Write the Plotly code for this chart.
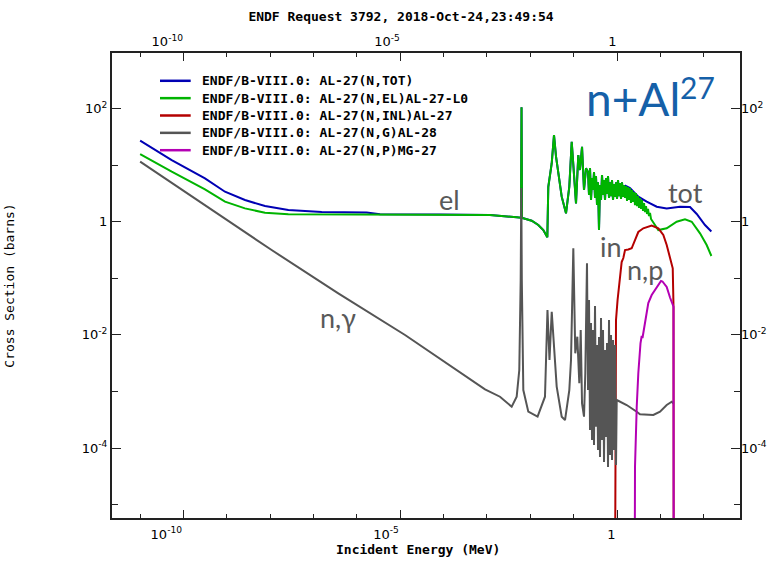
import plotly.graph_objects as go

# ---------------- data ----------------
# Elastic  AL-27(N,EL)
el_E = [1e-11, 5.35e-11, 3.13e-10, 9.06e-10, 2.62e-9, 7.59e-9, 2.62e-8, 1.68e-6, 8.26e-5, 1.175e-3,
        4.85e-3, 6.10e-3, 6.27e-3, 6.44e-3, 6.90e-3, 1.077e-2, 1.53e-2, 1.995e-2, 2.47e-2, 2.60e-2,
        3.12e-2, 3.52e-2, 3.92e-2, 4.43e-2, 5.30e-2, 6.66e-2, 7.94e-2, 9.02e-2, 9.82e-2, 0.1133,
        0.128, 0.140, 0.156, 0.1733, 0.1927,
        0.2143, 0.2260, 0.2383, 0.2513, 0.2650, 0.2795, 0.2947, 0.3108, 0.3277, 0.3456,
        0.3645, 0.3843, 0.4053, 0.4274, 0.4507, 0.4754, 0.5013, 0.5287, 0.5575, 0.5879,
        0.6200, 0.6538, 0.6895, 0.7271, 0.7668, 0.8086, 0.8527, 0.8992, 0.9483, 1.0,
        1.0545, 1.112, 1.173, 1.237, 1.304, 1.375, 1.450, 1.529, 1.613, 1.701,
        1.793, 1.891, 1.994, 2.103, 2.218, 2.339, 2.466, 2.601, 2.743, 2.892,
        3.050, 3.216, 3.392, 3.577, 3.772, 3.978, 4.195, 4.424, 4.665, 4.920,
        5.188, 5.471, 5.770, 6.085, 6.767, 7.526, 8.97, 14.0, 23.8, 37.0,
        52.9, 82.2, 117, 150]
el_S = [15.7, 7.64, 3.74, 2.26, 1.72, 1.44, 1.35, 1.35, 1.34, 1.31,
        1.20, 1.18, 105, 1.16, 1.15, 1.04, 0.874, 0.713, 0.530, 4.15,
        10.8, 34.0, 14.1, 6.68, 2.77, 1.41, 4.15, 25.9, 9.37, 2.11,
        15.1, 8.19, 21.1, 3.63, 8.78,
        7.55, 2.96, 8.89, 2.42, 5.92, 3.63, 7.55, 2.62, 6.42, 1.97,
        4.97, 0.713, 4.45, 2.42, 6.68, 2.96, 5.45, 2.42, 5.92, 3.09,
        6.42, 2.62, 4.97, 2.84, 5.45, 2.42, 4.64, 2.73, 4.97, 2.52,
        5.45, 2.84, 4.83, 2.52, 4.97, 2.73, 4.45, 2.62, 4.27, 2.32,
        4.10, 2.42, 3.94, 2.14, 3.63, 2.23, 3.35, 1.97, 3.21, 1.89,
        2.84, 1.75, 2.62, 1.68, 2.42, 1.55, 2.14, 1.48, 1.89, 1.37,
        1.68, 1.26, 1.43, 1.12, 0.995, 0.839, 0.713, 0.765, 1.00, 1.10,
        1.00, 0.624, 0.388, 0.248]

# Total  AL-27(N,TOT): visible low- and high-energy parts; in the resonance
# region it lies on the elastic curve.
tot_low_E = [1e-11, 5.35e-11, 3.13e-10, 9.06e-10, 2.62e-9, 7.59e-9, 2.62e-8, 1.54e-7, 1.68e-6, 3.41e-6]
tot_low_S = [27.0, 12.3, 5.85, 3.39, 2.42, 1.89, 1.61, 1.48, 1.45, 1.35]
tot_high_E = [1.613, 1.994, 2.466, 2.85, 3.10, 4.84, 8.24, 14.0, 28.4, 48.3, 69.0, 107, 150]
tot_high_S = [4.27, 3.94, 3.35, 2.96, 2.77, 2.26, 1.84, 1.72, 1.84, 1.82, 1.37, 0.875, 0.671]

# Inelastic  AL-27(N,INL)
inl_E = [0.876, 0.90, 0.948, 1.03, 1.17, 1.28, 1.40, 1.53, 1.82, 2.18,
         2.60, 3.10, 4.04, 6.31, 8.97, 11.7, 14.0, 16.7, 19.3, 20.1, 20.4]
inl_S = [1e-9, 9.2e-5, 1.83e-2, 4.14e-2, 9.33e-2, 0.194, 0.228, 0.316, 0.323, 0.339,
         0.475, 0.658, 0.765, 0.857, 0.765, 0.582, 0.388, 0.241, 0.150, 3.15e-2, 1e-9]

# Capture  AL-27(N,G)
ng_E = [1e-11, 3.13e-10, 1.08e-8, 3.72e-7, 1.29e-5, 9.02e-4, 2.00e-3, 3.72e-3, 4.85e-3, 5.57e-3,
        6.00e-3, 6.20e-3, 6.37e-3, 6.90e-3, 8.99e-3, 1.47e-2, 2.18e-2, 2.49e-2, 2.77e-2, 3.12e-2,
        3.52e-2, 4.06e-2, 5.30e-2, 6.32e-2, 7.94e-2, 8.69e-2, 9.82e-2, 0.109, 0.1214, 0.135,
        0.1454, 0.156, 0.1733, 0.1856, 0.203,
        0.2143, 0.2260, 0.2383, 0.2513, 0.2650, 0.2795, 0.2947, 0.3108, 0.3277, 0.3456,
        0.3645, 0.3843, 0.4053, 0.4274, 0.4507, 0.4754, 0.5013, 0.5287, 0.5575, 0.5879,
        0.6200, 0.6538, 0.6895, 0.7271, 0.7668, 0.8086, 0.8527, 0.8992, 0.9483, 0.984,
        1.67, 2.85, 3.39, 6.88, 9.82, 14.0, 18.3, 20.1]
ng_S = [11.5, 1.97, 0.316, 5.43e-2, 9.96e-3, 1.09e-3, 8.09e-4, 5.38e-4, 8.09e-4, 2.40e-3,
        9.33e-2, 3.94, 9.33e-2, 1.06e-3, 4.40e-4, 3.61e-4, 8.09e-4, 2.75e-2, 3.60e-3, 2.57e-2,
        6.19e-3, 1.22e-3, 3.59e-4, 3.13e-4, 1.06e-3, 3.60e-3, 0.339, 4.73e-3, 9.29e-3, 1.40e-3,
        1.22e-2, 6.18e-4, 3.59e-4, 2.10e-3, 0.184,
        1.06e-3, 4.14e-2, 2.09e-4, 1.62e-2, 1.39e-4, 1.22e-2, 1.13e-4, 3.24e-2, 2.39e-4, 6.63e-3,
        9.25e-5, 9.18e-3, 6.97e-5, 1.99e-2, 1.39e-4, 1.22e-2, 5.68e-5, 5.41e-3, 1.57e-4, 7.19e-3,
        4.64e-5, 1.83e-2, 7.55e-5, 9.96e-3, 6.16e-5, 8.13e-3, 9.25e-5, 6.63e-3, 5.03e-5, 7.08e-4,
        5.77e-4, 4.40e-4, 3.95e-4, 3.85e-4, 4.40e-4, 5.77e-4, 6.61e-4, 6.14e-4]

# (n,p)  AL-27(N,P)
np_E = [2.51, 2.60, 2.85, 3.10, 3.48, 3.71, 3.87, 4.43, 5.27, 6.31,
        8.07, 10.35, 11.2, 14.0, 16.7, 20.1, 20.4]
np_S = [1e-9, 4.69e-5, 5.38e-4, 2.10e-3, 7.10e-3, 9.57e-3, 8.82e-3, 1.60e-2, 3.66e-2, 5.07e-2,
        6.74e-2, 8.96e-2, 8.78e-2, 7.02e-2, 4.58e-2, 3.15e-2, 1e-9]

# total in the resonance region coincides with the elastic curve
mid = [(e, s) for e, s in zip(el_E, el_S) if tot_low_E[-1] < e < tot_high_E[0]]
tot_E = tot_low_E + [e for e, _ in mid] + tot_high_E
tot_S = tot_low_S + [s for _, s in mid] + tot_high_S

names = ["ENDF/B-VIII.0: AL-27(N,TOT)",
         "ENDF/B-VIII.0: AL-27(N,EL)AL-27-L0",
         "ENDF/B-VIII.0: AL-27(N,INL)AL-27",
         "ENDF/B-VIII.0: AL-27(N,G)AL-28",
         "ENDF/B-VIII.0: AL-27(N,P)MG-27"]
colors = ["#0000b4", "#00b400", "#b40000", "#555555", "#b400b4"]
xs = [tot_E, el_E, inl_E, ng_E, np_E]
ys = [tot_S, el_S, inl_S, ng_S, np_S]

x_tickvals = [1e-10, 1e-5, 1]
x_ticktext = ["10<sup>-10</sup>", "10<sup>-5</sup>", "1"]
x_minor = [1e-11, 1e-9, 1e-8, 1e-7, 1e-6, 1e-4, 1e-3, 1e-2, 1e-1, 1e1, 1e2]
y_tickvals = [1e-4, 1e-2, 1, 1e2]
y_ticktext = ["10<sup>-4</sup>", "10<sup>-2</sup>", "1", "10<sup>2</sup>"]
y_minor = [1e-5, 1e-3, 1e-1, 1e1]

XR = [-11.649, 2.837]
YR = [-5.235, 2.981]

fig = go.Figure()
for n, x, y, c in zip(names, xs, ys, colors):
    fig.add_trace(go.Scatter(x=x, y=y, mode="lines", name=n, showlegend=False,
                             line=dict(color=c, width=2), hoverinfo="skip"))
# anchor trace for the mirrored (top / right) label axes
fig.add_trace(go.Scatter(x=[], y=[], xaxis="x2", yaxis="y2", showlegend=False, hoverinfo="skip"))

tickfont = dict(family="DejaVu Sans", size=13, color="#000000")
monob = dict(family="DejaVu Sans Mono", size=13, color="#000000", weight="bold")
axcol = "#222222"

common_x = dict(type="log", range=XR, tickmode="array", tickvals=x_tickvals, ticktext=x_ticktext,
                ticks="inside", ticklen=8, tickwidth=1, tickcolor=axcol,
                minor=dict(tickmode="array", tickvals=x_minor, ticks="inside", ticklen=4,
                           tickwidth=1, tickcolor=axcol),
                ticklabelposition="outside left", tickfont=tickfont,
                showgrid=False, zeroline=False, automargin=False)
common_y = dict(type="log", range=YR, tickmode="array", tickvals=y_tickvals, ticktext=y_ticktext,
                ticks="inside", ticklen=9, tickwidth=1, tickcolor=axcol,
                minor=dict(tickmode="array", tickvals=y_minor, ticks="inside", ticklen=6,
                           tickwidth=1, tickcolor=axcol),
                tickfont=tickfont, showgrid=False, zeroline=False, automargin=False)

fig.update_layout(
    width=778, height=562, autosize=False,
    margin=dict(l=112, r=38, t=53, b=44, autoexpand=False),
    paper_bgcolor="white", plot_bgcolor="white",
    title=dict(text="ENDF Request 3792, 2018-Oct-24,23:49:54", font=monob, automargin=False,
               x=401 / 778, xanchor="center", y=1 - 16.5 / 562, yanchor="middle"),
    xaxis=dict(common_x, showline=True, linecolor=axcol, linewidth=2, mirror=True,
               ticklabelstandoff=3,
               title=dict(text="Incident Energy (MeV)&nbsp;&nbsp;", font=monob, standoff=2)),
    yaxis=dict(common_y, showline=True, linecolor=axcol, linewidth=2, mirror=True,
               title=dict(text="Cross Section (barns)",
                          font=dict(family="DejaVu Sans Mono", size=13, color="#000000"),
                          standoff=64)),
    xaxis2=dict(common_x, overlaying="x", side="top", anchor="y", showline=False,
                ticklabelstandoff=3),
    yaxis2=dict(common_y, overlaying="y", side="right", anchor="x", showline=False),
)

# manual legend (line samples + labels), paper coordinates
L, W, T, H = 112.0, 628.0, 53.0, 465.0
def px(xp):
    return (xp - L) / W
def py(yp):
    return (T + H - yp) / H
for i, (n, c) in enumerate(zip(names, colors)):
    yrow = 80.8 + 17.35 * i
    fig.add_shape(type="line", xref="paper", yref="paper", x0=px(160), x1=px(190.7),
                  y0=py(yrow), y1=py(yrow), line=dict(color=c, width=2.5))
    fig.add_annotation(text=n, xref="paper", yref="paper", x=px(200), y=py(yrow),
                       xanchor="left", yanchor="middle", showarrow=False, font=monob)

lab = dict(family="Lato", size=27, color="#595959")
for t, xc, yc in [("tot", 685.8, 192.4), ("el", 449.2, 199.7), ("in", 610.8, 246.4),
                  ("n,p", 645.0, 269.7), ("n,γ", 338.3, 317.4)]:
    fig.add_annotation(text=t, xref="paper", yref="paper", x=px(xc), y=py(yc),
                       xanchor="center", yanchor="middle", showarrow=False, font=lab)
fig.add_annotation(text="n+Al", xref="paper", yref="paper", x=px(633.3), y=py(98.3),
                   xanchor="center", yanchor="middle", showarrow=False,
                   font=dict(family="Lato", size=46, color="#1560a8"))
fig.add_annotation(text="27", xref="paper", yref="paper", x=px(697.5), y=py(87),
                   xanchor="center", yanchor="middle", showarrow=False,
                   font=dict(family="Lato", size=30, color="#1560a8"))

fig.write_html("out.html")
